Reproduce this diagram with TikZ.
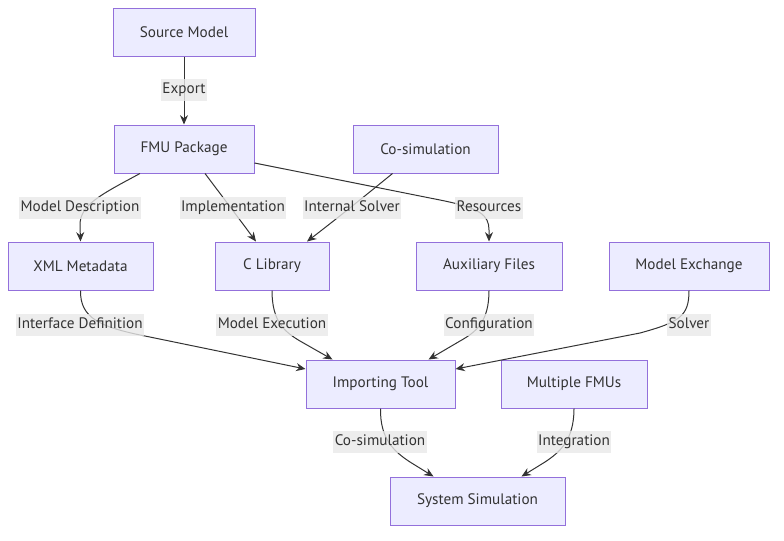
\documentclass[tikz,border=0pt]{standalone}
\usepackage{fontspec}
\setmainfont{PT Sans}
\usetikzlibrary{arrows.meta,calc}
\definecolor{nodefill}{HTML}{ECECFF}
\definecolor{nodeline}{HTML}{9370DB}
\definecolor{ink}{HTML}{333333}
\definecolor{lblbg}{HTML}{E8E8E8}
\tikzset{
  box/.style={draw=nodeline,fill=nodefill,line width=0.75pt,minimum height=36pt,
    minimum width=#1,inner sep=0pt,text=ink,font=\fontsize{11.4}{13}\selectfont},
  lbl/.style={fill=lblbg,fill opacity=0.8,text opacity=1,text=ink,inner xsep=1pt,inner ysep=2.5pt,
    text height=8.2pt,text depth=2.6pt,font=\fontsize{11.4}{13}\selectfont},
  edge/.style={draw=ink,line width=0.75pt,-{Stealth[length=7pt,width=6pt]}}
}
\begin{document}
\begin{tikzpicture}[x=0.75pt,y=-0.75pt]
\useasboundingbox (0,0) rectangle (784,540);
\node[box=106.5pt] (src) at (184,32) {Source Model};
\node[box=105pt] (fmu) at (184,149) {FMU Package};
\node[box=108.75pt] (cos) at (425.5,149) {Co-simulation};
\node[box=108.75pt] (xml) at (80.5,266) {XML Metadata};
\node[box=85.5pt] (clib) at (272,266) {C Library};
\node[box=109.5pt] (aux) at (489,266) {Auxiliary Files};
\node[box=120pt] (mex) at (689,266) {Model Exchange};
\node[box=111.75pt] (imp) at (380.5,384) {Importing Tool};
\node[box=109.5pt] (mul) at (574,384) {Multiple FMUs};
\node[box=131.25pt] (sys) at (477.5,501) {System Simulation};

\draw[edge] (src) -- (fmu);
\draw[edge] ($(fmu.south)+(-44,0)$) .. controls (100,195) and (80,205) .. (80,225) -- (xml.north);
\draw[edge] ($(fmu.south)+(21,0)$) .. controls (225,200) and (240,220) .. ($(clib.north)+(-16,0)$);
\draw[edge] ($(cos.south)+(-33,0)$) .. controls (360,200) and (335,220) .. ($(clib.north)+(35,0)$);
\draw[edge] (fmu.east |- 0,163) -- (440,200) .. controls (480,208) and (489,215) .. (489,230) -- (aux.north);
\draw[edge] (xml.south) .. controls (80,318) and (100,327) .. (145,336) -- ($(imp.west)+(0,-15)$);
\draw[edge] (clib.south) .. controls (272,322) and (285,332) .. (300,341) -- ($(imp.north)+(-48,0)$);
\draw[edge] (aux.south) .. controls (489,322) and (476,332) .. (460,341) -- ($(imp.north)+(48,0)$);
\draw[edge] (mex.south) .. controls (689,316) and (680,322) .. (640,333) -- ($(imp.east)+(0,-15)$);
\draw[edge] (imp.south) .. controls (380,440) and (395,452) .. (410,462) -- ($(sys.north)+(-44,0)$);
\draw[edge] (mul.south) .. controls (574,440) and (560,452) .. (545,462) -- ($(sys.north)+(44,0)$);

\node[lbl] (l1) at (184,90) {Export};
\node[lbl] (l2) at (80,208) {Model Description};
\node[lbl] (l3) at (233,208) {Implementation};
\node[lbl] (l4) at (352,208) {Internal Solver};
\node[lbl] (l5) at (489,208) {Resources};
\node[lbl] (l6) at (80,325) {Interface Definition};
\node[lbl] (l7) at (272,325) {Model Execution};
\node[lbl] (l8) at (489,325) {Configuration};
\node[lbl] (l9) at (689,325) {Solver};
\node[lbl] (l10) at (380,442) {Co-simulation};
\node[lbl] (l11) at (574,442) {Integration};
\end{tikzpicture}
\end{document}
